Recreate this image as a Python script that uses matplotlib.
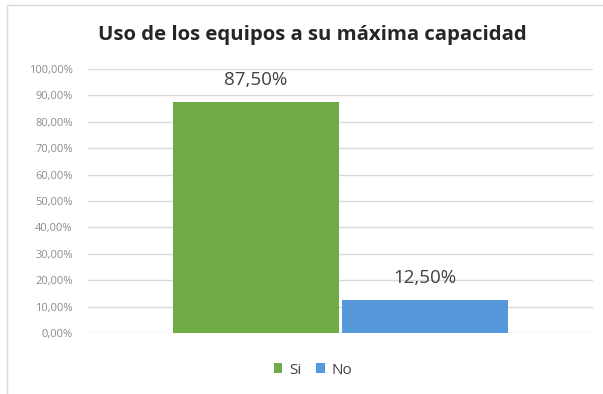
import matplotlib
matplotlib.use("Agg")
import matplotlib.pyplot as plt
from matplotlib.patches import Rectangle
import numpy as np

title = "Uso de los equipos a su máxima capacidad"
series = ["Si", "No"]
values = [0.875, 0.125]
colors = ["#6FAC46", "#5599DA"]
yticks = [i / 10 for i in range(11)]
ytick_labels = [f"{int(t*100)},00%" for t in yticks]

plt.rcParams['font.family'] = ['Open Sans', 'DejaVu Sans']

fig = plt.figure(figsize=(6.03, 3.94), dpi=100)
fig.patches.append(Rectangle((7/603, -0.1), 1.2, (394-5)/394 + 0.1, transform=fig.transFigure,
                             facecolor='white', edgecolor='#d9d9d9', linewidth=1.0, zorder=-5))

ax = fig.add_axes([88/603, 1 - 333/394, (593-88)/603, (333-69)/394])
ax.set_zorder(2)
ax.set_facecolor('none')
ax.set_xlim(-0.5, 0.5)
ax.set_ylim(0, 1)

width = 0.329
gap = 0.006
offsets = [-(width/2 + gap/2), (width/2 + gap/2)]
for off, v, c, s in zip(offsets, values, colors, series):
    ax.bar(off, v, width=width, color=c, label=s, zorder=3)
    ax.annotate(f"{v*100:.2f}%".replace('.', ','), (off, v), xytext=(0, 15.5),
                textcoords='offset points', ha='center', va='center',
                fontsize=13.5, color='#404040')

ax.set_yticks(yticks)
ax.set_yticklabels(ytick_labels, fontsize=8, color='#8c8c8c')
ax.tick_params(axis='y', length=0, pad=11)
ax.set_xticks([])
ax.yaxis.grid(True, color='#d9d9d9', linewidth=1.0, zorder=0)
ax.set_axisbelow(True)
for sp in ax.spines.values():
    sp.set_visible(False)

fig.text(312/603, 1 - 35/394, title, ha='center', va='center', fontsize=14.7,
         fontweight='bold', color='#262626')

leg = fig.legend(loc='center', bbox_to_anchor=(313/603, 1 - 370/394), ncol=2, frameon=False,
                 fontsize=11, handlelength=0.55, handleheight=0.55, handletextpad=0.45,
                 columnspacing=1.0, labelcolor='#404040')

fig.savefig("out.png", dpi=100)
